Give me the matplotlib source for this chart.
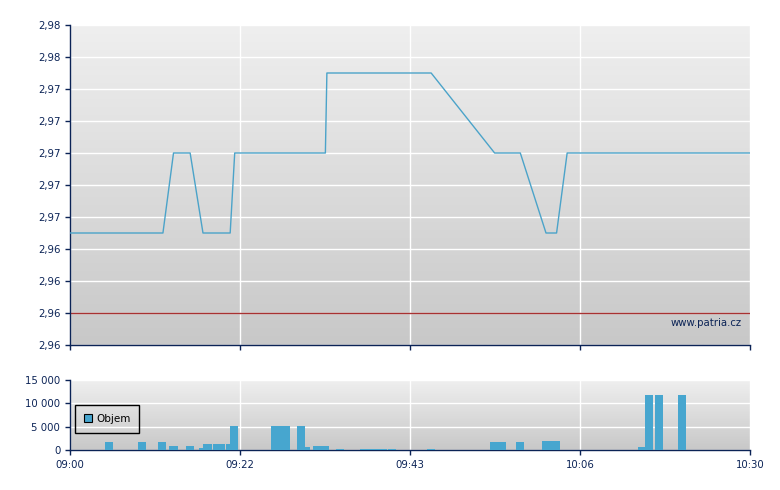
import numpy as np
import matplotlib
matplotlib.use("Agg")
from matplotlib import pyplot as plt
from matplotlib.patches import Patch
from matplotlib.ticker import FuncFormatter

# Price line (minutes after 09:00, price)
price_min = [0, 12.3, 13.7, 15.9, 17.6, 21.2, 21.8, 33.8, 34.0, 47.8, 56.2, 59.6, 63.0, 64.4, 65.8, 90]
price_val = [2.965, 2.965, 2.970, 2.970, 2.965, 2.965, 2.970, 2.970, 2.975, 2.975,
             2.970, 2.970, 2.965, 2.965, 2.970, 2.970]
prev_close = 2.960

# Volume bars (start minute, end minute, volume)
vol_start = [4.6, 9.0, 11.65, 13.1, 15.35, 17.05, 17.6, 18.9, 20.65, 21.2, 26.6, 30.0, 31.1,
             32.15, 35.2, 38.4, 42.1, 47.25, 55.6, 59.0, 62.5, 75.2, 76.1, 77.4, 80.45]
vol_end = [5.65, 10.05, 12.7, 14.3, 16.4, 17.55, 18.75, 20.5, 21.2, 22.2, 29.1, 31.1, 31.75,
           34.3, 36.25, 41.95, 43.15, 48.3, 57.7, 60.1, 64.85, 76.1, 77.1, 78.5, 81.5]
vol_val = [1800, 1800, 1800, 900, 900, 450, 1300, 1300, 1300, 5200, 5200, 5200, 650,
           850, 300, 200, 200, 200, 1800, 1800, 2000, 650, 11800, 11800, 11800]

x_ticks = [0, 22.5, 45, 67.5, 90]
x_labels = ['09:00', '09:22', '09:43', '10:06', '10:30']
price_ticks = np.linspace(2.958, 2.978, 11)
vol_ticks = [0, 5000, 10000, 15000]

NAVY = '#0b2356'
LINE = '#4ba3c9'
BAR = '#47a6cf'

plt.rcParams['font.family'] = ['DejaVu Sans']
plt.rcParams['font.size'] = 7.3

fig = plt.figure(figsize=(7.8, 4.9), dpi=100)
ax1 = fig.add_axes([70/780, 1 - 345/490, 680/780, 320/490])
ax2 = fig.add_axes([70/780, 1 - 450/490, 680/780, 70/490])

grad = np.linspace(0, 1, 256).reshape(-1, 1)
bg_cmap = matplotlib.colors.LinearSegmentedColormap.from_list('bg', ['#efefef', '#c8c8c8'])


def style_axis(ax):
    ax.imshow(grad, extent=[0, 1, 0, 1], transform=ax.transAxes, aspect='auto',
              cmap=bg_cmap, zorder=0)
    ax.set_xlim(0, 90)
    ax.set_xticks(x_ticks)
    ax.grid(True, color='white', linewidth=1)
    ax.set_axisbelow(True)
    for s in ['top', 'right']:
        ax.spines[s].set_visible(False)
    for s in ['left', 'bottom']:
        ax.spines[s].set_color(NAVY)
        ax.spines[s].set_linewidth(1)
    ax.tick_params(colors=NAVY, length=3.5, width=1, labelcolor=NAVY)


# price chart
style_axis(ax1)
ax1.set_ylim(2.958, 2.978)
ax1.set_yticks(price_ticks)
ax1.yaxis.set_major_formatter(FuncFormatter(lambda v, p: ('%.2f' % v).replace('.', ',')))
ax1.set_xticklabels([])
ax1.axhline(prev_close, color='#a83232', linewidth=1, zorder=2)
ax1.plot(price_min, price_val, color=LINE, linewidth=1, zorder=3)
ax1.text(0.988, 0.069, 'www.patria.cz', transform=ax1.transAxes, ha='right', va='center',
         color=NAVY, fontsize=7.3)

# volume chart
style_axis(ax2)
ax2.set_ylim(0, 15000)
ax2.set_yticks(vol_ticks)
ax2.yaxis.set_major_formatter(FuncFormatter(lambda v, p: '{:,.0f}'.format(v).replace(',', ' ')))
ax2.set_xticklabels(x_labels)
widths = [e - s for s, e in zip(vol_start, vol_end)]
ax2.bar(vol_start, vol_val, width=widths, align='edge', color=BAR, linewidth=0, zorder=3)
leg = ax2.legend(handles=[Patch(facecolor=BAR, edgecolor='black', linewidth=0.8, label='Objem')],
                 loc='upper left', bbox_to_anchor=(0.007, 0.643), borderaxespad=0,
                 fancybox=False, framealpha=1, edgecolor='black', handlelength=0.8,
                 handleheight=0.8, borderpad=0.85, handletextpad=0.4, fontsize=7.5)
leg.get_frame().set_facecolor('none')
leg.get_frame().set_linewidth(1)

fig.savefig('out.png', dpi=100)
